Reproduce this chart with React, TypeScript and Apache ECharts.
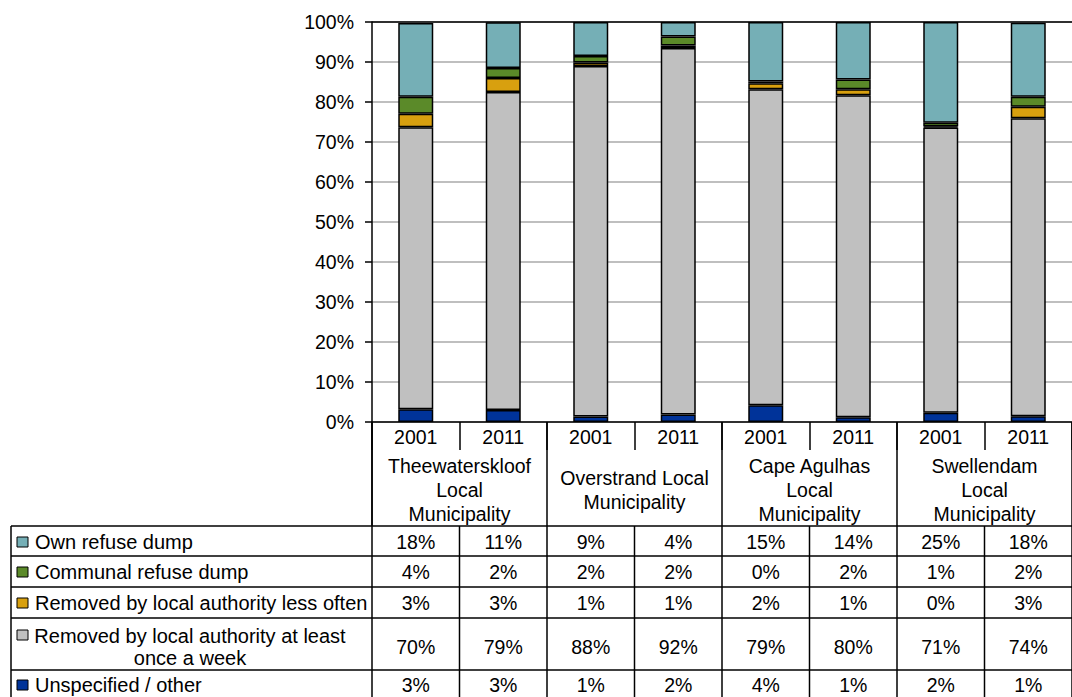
import React, { useEffect, useRef } from "react";
import * as echarts from "echarts";

// ---- data ----
const years = ["2001", "2011", "2001", "2011", "2001", "2011", "2001", "2011"];
const municipalities = [
  "Theewaterskloof\nLocal\nMunicipality",
  "Overstrand Local\nMunicipality",
  "Cape Agulhas\nLocal\nMunicipality",
  "Swellendam\nLocal\nMunicipality",
];
const yTicks = [0, 10, 20, 30, 40, 50, 60, 70, 80, 90, 100];

// stacked bottom -> top (percent of households)
const unspecified = [3.2, 3.0, 1.4, 1.9, 4.2, 1.2, 2.3, 1.45];
const weekly = [70.49, 79.49, 87.6, 91.6, 79.0, 80.49, 71.3, 74.49];
const lessOften = [3.4, 3.49, 0.9, 0.6, 1.5, 1.49, 0.3, 2.9];
const communal = [4.2, 2.49, 1.6, 2.3, 0.4, 2.45, 0.9, 2.49];
const ownDump = [18.49, 11.49, 8.5, 3.6, 14.9, 14.37, 25.2, 18.49];

const seriesNames = [
  "Unspecified / other",
  "Removed by local authority at least once a week",
  "Removed by local authority less often",
  "Communal refuse dump",
  "Own refuse dump",
];
const tableLabels = [
  "Own refuse dump",
  "Communal refuse dump",
  "Removed by local authority less often",
  "Removed by local authority at least\nonce a week",
  "Unspecified / other",
];

// ---- styles / layout ----
const COLORS = ["#003399", "#C0C0C0", "#D8A00F", "#5B8A29", "#75AFB6"];
const FONT = "'Liberation Sans', Arial, sans-serif";
const FS = 19.5;
const FS_LABEL = 20;
const W = 1072;
const H = 697;
const GRID_LEFT = 372;
const GRID_TOP = 22;
const GRID_W = 700;
const GRID_H = 400;
const TABLE_LEFT = 11;
const ROW_LINES = [526, 556, 587, 618, 670];
const ROW_CENTERS = [542, 572, 603, 647, 685];

export default function App() {
  const ref = useRef<HTMLDivElement>(null);

  useEffect(() => {
    if (!ref.current) return;
    const chart = echarts.init(ref.current, null, { renderer: "svg" });

    const stackData = [unspecified, weekly, lessOften, communal, ownDump];
    // table rows: top -> bottom
    const rowData = [ownDump, communal, lessOften, weekly, unspecified];
    const rowColors = [COLORS[4], COLORS[3], COLORS[2], COLORS[1], COLORS[0]];

    const catW = GRID_W / years.length;
    const plotBottom = GRID_TOP + GRID_H;
    const lineStyle = { stroke: "#000", lineWidth: 1.5 };
    const g: any[] = [];

    // horizontal table lines
    ROW_LINES.forEach((y) => {
      g.push({ type: "line", shape: { x1: TABLE_LEFT, y1: y, x2: W, y2: y }, style: lineStyle, silent: true });
    });
    // vertical lines
    g.push({ type: "line", shape: { x1: TABLE_LEFT, y1: ROW_LINES[0], x2: TABLE_LEFT, y2: H + 5 }, style: lineStyle, silent: true });
    g.push({ type: "line", shape: { x1: GRID_LEFT, y1: plotBottom, x2: GRID_LEFT, y2: H + 5 }, style: lineStyle, silent: true });
    for (let k = 1; k <= years.length; k++) {
      const x = GRID_LEFT + k * catW;
      g.push({ type: "line", shape: { x1: x, y1: ROW_LINES[0], x2: x, y2: H + 5 }, style: lineStyle, silent: true });
    }
    // row labels, keys and values
    rowData.forEach((arr, r) => {
      const cy = ROW_CENTERS[r];
      const multi = tableLabels[r].includes("\n");
      const keyY = multi ? cy - 17 : cy - 5;
      g.push({
        type: "rect",
        shape: { x: 17, y: keyY, width: 11, height: 10 },
        style: { fill: rowColors[r], stroke: "#000", lineWidth: 1 },
        silent: true,
      });
      g.push({
        type: "text",
        x: multi ? 190 : 35,
        y: cy,
        style: {
          text: tableLabels[r],
          fill: "#000",
          fontSize: FS_LABEL,
          fontFamily: FONT,
          align: multi ? "center" : "left",
          verticalAlign: "middle",
          lineHeight: 22,
        },
        silent: true,
      });
      arr.forEach((v, i) => {
        g.push({
          type: "text",
          x: GRID_LEFT + (i + 0.5) * catW,
          y: cy,
          style: {
            text: Math.round(v) + "%",
            fill: "#000",
            fontSize: FS,
            fontFamily: FONT,
            align: "center",
            verticalAlign: "middle",
          },
          silent: true,
        });
      });
    });

    const series: any[] = stackData.map((d, i) => ({
      name: seriesNames[i],
      type: "bar",
      stack: "total",
      xAxisIndex: 0,
      barWidth: "40%",
      data: d,
      itemStyle: { color: COLORS[i], borderColor: "#000", borderWidth: 1.5 },
      ...(i === stackData.length - 1
        ? {
            markLine: {
              silent: true,
              symbol: ["none", "none"],
              label: { show: false },
              lineStyle: { color: "#000", width: 1.5, type: "solid" },
              data: [{ yAxis: yTicks[yTicks.length - 1] }],
            },
          }
        : {}),
    }));

    chart.setOption({
      animation: false,
      textStyle: { fontFamily: FONT },
      grid: { left: GRID_LEFT, top: GRID_TOP, width: GRID_W, height: GRID_H, containLabel: false },
      xAxis: [
        {
          type: "category",
          position: "bottom",
          data: years,
          axisLine: { show: true, lineStyle: { color: "#000", width: 1.5 } },
          axisTick: { show: true, interval: 0, length: 28, lineStyle: { color: "#000", width: 1.5 } },
          axisLabel: { interval: 0, fontSize: FS, color: "#000", margin: 15, verticalAlign: "middle", fontFamily: FONT },
          splitLine: { show: false },
        },
        {
          type: "category",
          position: "bottom",
          data: municipalities,
          axisLine: { show: false },
          axisTick: { show: true, interval: 0, length: 104, lineStyle: { color: "#000", width: 1.5 } },
          axisLabel: {
            interval: 0,
            fontSize: FS,
            lineHeight: 24,
            color: "#000",
            margin: 68,
            verticalAlign: "middle",
            fontFamily: FONT,
          },
          splitLine: { show: false },
        },
      ],
      yAxis: {
        type: "value",
        min: yTicks[0],
        max: yTicks[yTicks.length - 1],
        interval: yTicks[1] - yTicks[0],
        axisLine: { show: true, lineStyle: { color: "#000", width: 1.5 } },
        axisTick: { show: true, length: 7, lineStyle: { color: "#000", width: 1.5 } },
        axisLabel: { formatter: "{value}%", fontSize: FS, color: "#000", margin: 18, fontFamily: FONT },
        splitLine: { show: true, lineStyle: { color: "#BFBFBF", width: 2 } },
      },
      series,
      graphic: g,
    });

    return () => chart.dispose();
  }, []);

  return (
    <div
      ref={ref}
      style={{ position: "absolute", left: 0, top: 0, width: W, height: H, background: "#fff" }}
    />
  );
}
